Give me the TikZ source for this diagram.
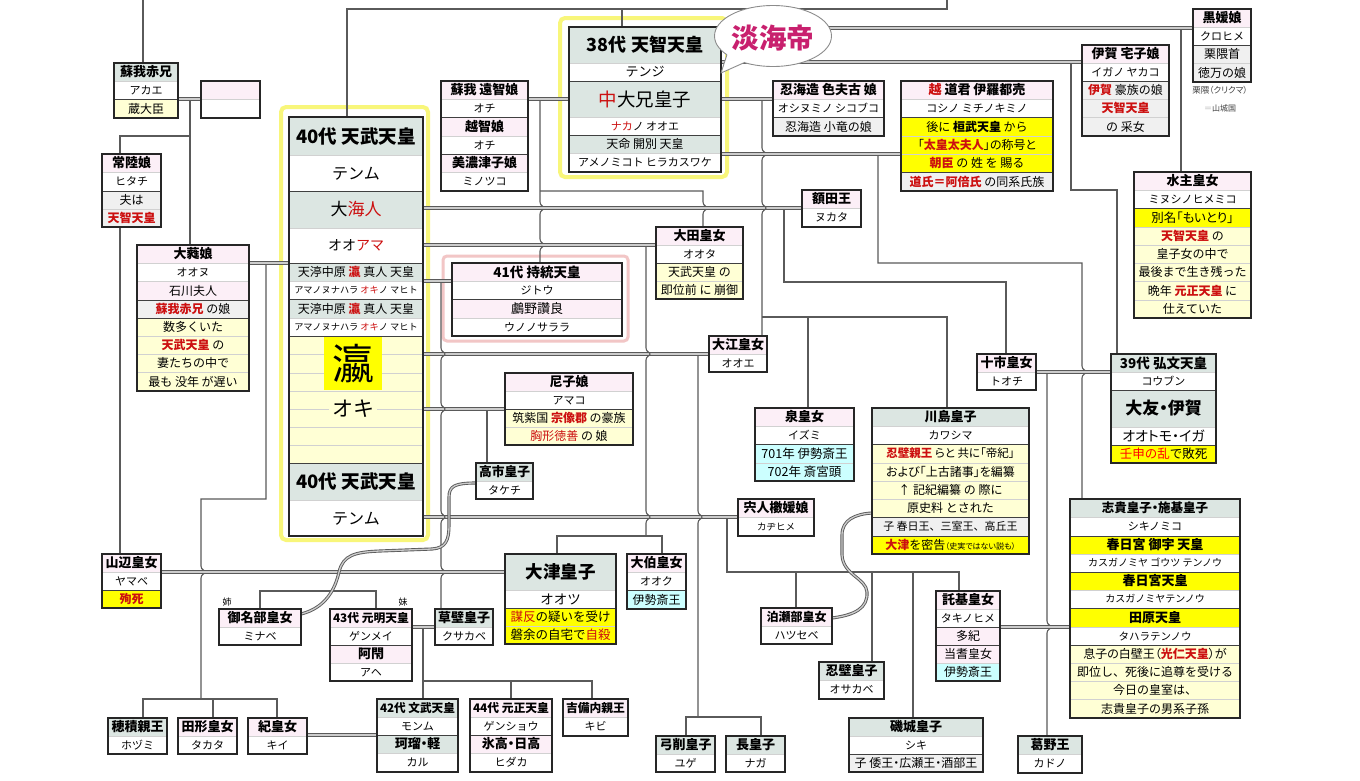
\documentclass[tikz,border=0pt]{standalone}
\usepackage{fontspec}
\usepackage{graphicx}
\setmainfont{Noto Sans CJK JP}
\usetikzlibrary{shapes.geometric}
\definecolor{hd}{HTML}{DCE6E2}
\definecolor{pk}{HTML}{FCEFF7}
\definecolor{wt}{HTML}{FFFFFF}
\definecolor{ly}{HTML}{FFFFD5}
\definecolor{yb}{HTML}{FFFF00}
\definecolor{gy}{HTML}{F0F0F0}
\definecolor{cy}{HTML}{CCFFFF}
\definecolor{tred}{HTML}{CC1010}
\definecolor{lc}{HTML}{5A5A5A}
\definecolor{mag}{HTML}{C8206E}
\definecolor{yhlc}{HTML}{F8F67A}
\definecolor{phlc}{HTML}{F2C6C6}
\pgfdeclarelayer{back}
\pgfdeclarelayer{lines}
\pgfsetlayers{back,lines,main}
\newif\ifdk
\newsavebox\rwbox
\newcommand\fs[1]{\fontsize{#1}{#1}\selectfont}
\newcommand\pa{\addfontfeature{RawFeature=+palt}}
\newcommand\rd[1]{{\color{tred}#1}}
\newcommand\rdb[1]{{\color{tred}\bfseries #1}}
\newcommand\cjs{\rule[-0.12em]{0pt}{1em}}
\def\tmpwt{wt}
\newcommand\fitbox[1]{%
 \sbox\rwbox{#1}%
 \pgfmathsetmacro\rwmax{\bxw-6}%
 \ifdim\wd\rwbox>\rwmax pt\relax
   \edef\rwwd{\the\wd\rwbox}%
   \pgfmathsetmacro\rwr{\rwmax/\rwwd}%
   \scalebox{\rwr}{\usebox\rwbox}%
 \else\usebox\rwbox\fi}
\newcommand\BX[4]{\gdef\bxn{#1}\gdef\bxx{#2}\gdef\bxt{#3}\gdef\bxy{#3}\gdef\bxw{#4}\global\dkfalse}
\newcommand\RW[4][]{%
 \fill[#3] (\bxx,\bxy) rectangle ({\bxx+\bxw},#2);%
 \ifdk\draw[dkl] (\bxx,\bxy) -- ++(\bxw,0);\else\draw[sepl] (\bxx,\bxy) -- ++(\bxw,0);\fi
 \global\dkfalse
 \def\tmpa{#3}\ifx\tmpa\tmpwt\def\rwf{\fs{11}}\else\def\rwf{\fs{12}}\fi
 \node[rowtxt,font=\rwf,#1] at ({\bxx+\bxw/2},{(\bxy+#2)/2}) {\fitbox{\cjs #4}};%
 \xdef\bxy{#2}}
\newcommand\DK{\global\dktrue}
\newcommand\EB{\pgfmathsetmacro\bxh{\bxy-\bxt}\node[bord,minimum width=\bxw pt,minimum height=\bxh pt,anchor=north west] (\bxn) at (\bxx,\bxt) {};}
\def\hp#1#2{-- (#1,{#2-6}) .. controls (#1,{#2-2}) and ({#1+4},{#2-2}) .. ({#1+4},#2) .. controls ({#1+4},{#2+2}) and (#1,{#2+2}) .. (#1,{#2+6})}
\begin{document}
\begin{tikzpicture}[x=1pt,y=-1pt,
  rowtxt/.style={inner sep=0},
  hb/.style={font=\fs{13}\bfseries},
  sepl/.style={draw=black!18,line width=0.6pt},
  dkl/.style={draw=black!75,line width=1pt},
  bord/.style={draw=black!85,line width=1.5pt,inner sep=0,outer sep=0},
  ln/.style={draw=lc,line width=1.1pt},
  dbl/.style={draw=lc,line width=0.9pt,double=black!20,double distance=1.3pt},
  yhl/.style={draw=yhlc,line width=4pt,rounded corners=5pt},
  phl/.style={draw=phlc,line width=3pt,rounded corners=4pt}]
\useasboundingbox (0,0) rectangle (1360,780);
\begin{pgfonlayer}{back}
\fill[white] (0,0) rectangle (1360,780);
\draw[yhl] (281,107) rectangle (428,540);
\draw[yhl] (560,18) rectangle (727,177);
\draw[phl] (443,256) rectangle (628,341);
\end{pgfonlayer}

% ---------- boxes ----------
\BX{soga}{114}{63}{64}
\RW[hb]{81}{hd}{蘇我赤兄}
\RW{99}{wt}{アカエ}
\DK\RW{118}{ly}{蔵大臣}
\EB

\BX{emp}{201}{81}{59}
\RW{99}{pk}{}
\RW{118}{wt}{}
\EB

\BX{hitachi}{102}{154}{59}
\RW[hb]{172}{pk}{常陸娘}
\RW{191}{wt}{ヒタチ}
\DK\RW{209}{gy}{夫は}
\RW{227}{gy}{\rdb{天智天皇}}
\EB

\BX{onu}{137}{245}{112}
\RW[hb]{263}{pk}{大蕤娘}
\RW{281}{wt}{オオヌ}
\RW{300}{pk}{石川夫人}
\DK\RW{318}{gy}{\rdb{蘇我赤兄} の娘}
\DK\RW{336}{ly}{数多くいた}
\RW{354}{ly}{\rdb{天武天皇} の}
\RW{372}{ly}{妻たちの中で}
\RW{391}{ly}{最も 没年 が遅い}
\EB

\BX{tenmu}{289}{117}{134}
\RW[font=\fs{18.5}\bfseries]{155}{hd}{40代 天武天皇}
\RW[font=\fs{16}]{191}{wt}{テンム}
\DK\RW[font=\fs{17}]{228}{hd}{大\rd{海人}}
\RW[font=\fs{14}]{263}{wt}{オオ\rd{アマ}}
\DK\RW[font=\fs{12}]{281}{hd}{天渟中原 \rdb{瀛} 真人 天皇}
\RW[font=\fs{9.2}]{299}{wt}{アマノヌナハラ \rd{オキ}ノ マヒト}
\DK\RW[font=\fs{12}]{318}{hd}{天渟中原 \rdb{瀛} 真人 天皇}
\RW[font=\fs{9.2}]{336}{wt}{アマノヌナハラ \rd{オキ}ノ マヒト}
\DK\RW{354}{ly}{}
\RW{373}{ly}{}
\RW{391}{ly}{}
\RW{409}{ly}{}
\RW{427}{ly}{}
\RW{445}{ly}{}
\RW{463}{ly}{}
\fill[yb] (324,336.5) rectangle (382,390);
\node[font=\fs{42},inner sep=0] (oki1) at (353,364) {瀛};
\node[font=\fs{21},inner sep=3pt,fill=ly] (oki2) at (353,409) {オキ};
\DK\RW[font=\fs{18.5}\bfseries]{500}{hd}{40代 天武天皇}
\RW[font=\fs{16}]{536}{wt}{テンム}
\EB

\BX{tenji}{569}{27}{152}
\RW[font=\fs{18}\bfseries]{63}{hd}{38代 天智天皇}
\RW[font=\fs{13}]{81}{wt}{テンジ}
\DK\RW[font=\fs{18.5}]{117}{hd}{\rd{中}大兄皇子}
\RW[font=\fs{11}]{135}{wt}{\rd{ナカ}ノ オオエ}
\DK\RW[font=\fs{12}]{153}{hd}{天命 開別 天皇}
\RW[font=\fs{11}]{172}{wt}{アメノミコト ヒラカスワケ}
\EB

\BX{ochi}{441}{81}{87}
\RW[hb]{99}{pk}{蘇我 遠智娘}
\RW{117}{wt}{オチ}
\DK\RW[hb]{136}{pk}{越智娘}
\RW{154}{wt}{オチ}
\DK\RW[hb]{172}{pk}{美濃津子娘}
\RW{191}{wt}{ミノツコ}
\EB

\BX{oshinumi}{773}{81}{111}
\RW[hb]{99}{pk}{忍海造 色夫古 娘}
\RW{117}{wt}{オシヌミノ シコブコ}
\DK\RW{136}{gy}{忍海造 小竜の娘}
\EB

\BX{koshi}{901}{81}{152}
\RW[hb]{99}{pk}{\rd{越} 道君 伊羅都売}
\RW{117}{wt}{コシノ ミチノキミノ}
\DK\RW{136}{yb}{後に {\bfseries 桓武天皇} から}
\RW{154}{yb}{\pa「\rdb{太皇太夫人}」の称号と}
\RW{172}{yb}{\rdb{朝臣} の 姓 を 賜る}
\DK\RW{191}{gy}{\rdb{道氏＝阿倍氏} の同系氏族}
\EB

\BX{iga}{1082}{45}{87}
\RW[hb]{63}{pk}{伊賀 宅子娘}
\RW{81}{wt}{イガノ ヤカコ}
\DK\RW{99}{gy}{\rdb{伊賀} 豪族の娘}
\RW{117}{gy}{\rdb{天智天皇}}
\RW{136}{gy}{の 采女}
\EB

\BX{kuro}{1193}{9}{58}
\RW[hb]{27}{pk}{黒媛娘}
\RW{45}{wt}{クロヒメ}
\DK\RW{63}{gy}{栗隈首}
\RW{82}{gy}{徳万の娘}
\EB
\node[font=\fs{8.5},text=black!75,inner sep=0] (kn1) at (1220,90) {\pa 栗隈（クリクマ）};
\node[font=\fs{8},text=black!75,inner sep=0] (kn2) at (1220,108) {{\color{black!30}＝}山城国};

\BX{mondo}{1134}{172}{117}
\RW[hb]{190}{pk}{水主皇女}
\RW{208}{wt}{ミヌシノヒメミコ}
\DK\RW[font=\fs{12.5}]{227}{yb}{\pa 別名「もいとり」}
\RW{245}{ly}{\rdb{天智天皇} の}
\RW{263}{ly}{皇子女の中で}
\RW{281}{ly}{最後まで生き残った}
\RW{300}{ly}{晩年 \rdb{元正天皇} に}
\RW{318}{ly}{仕えていた}
\EB

\BX{nukata}{802}{190}{59}
\RW[hb]{208}{pk}{額田王}
\RW{227}{wt}{ヌカタ}
\EB

\BX{ota}{656}{227}{87}
\RW[hb]{245}{pk}{大田皇女}
\RW{263}{wt}{オオタ}
\DK\RW{281}{ly}{天武天皇 の}
\RW{299}{ly}{即位前 に 崩御}
\EB

\BX{jito}{452}{263}{170}
\RW[font=\fs{13.5}\bfseries]{281}{pk}{41代 持統天皇}
\RW{299}{wt}{ジトウ}
\DK\RW[font=\fs{13}]{318}{pk}{鸕野讚良}
\RW{336}{wt}{ウノノサララ}
\EB

\BX{ooe}{709}{336}{58}
\RW[hb]{354}{pk}{大江皇女}
\RW{372}{wt}{オオエ}
\EB

\BX{tochi}{977}{354}{59}
\RW[hb]{372}{pk}{十市皇女}
\RW{390}{wt}{トオチ}
\EB

\BX{kobun}{1111}{354}{105}
\RW[font=\fs{13.5}\bfseries]{372}{hd}{39代 弘文天皇}
\RW{390}{wt}{コウブン}
\DK\RW[font=\fs{17}\bfseries]{427}{hd}{\pa 大友・伊賀}
\RW[font=\fs{14}]{445}{wt}{\pa オオトモ・イガ}
\DK\RW[font=\fs{12.5}]{463}{yb}{{\color{red}壬申の乱}で敗死}
\EB

\BX{amako}{505}{373}{128}
\RW[hb]{391}{pk}{尼子娘}
\RW{409}{wt}{アマコ}
\DK\RW{427}{ly}{筑紫国 \rdb{宗像郡} の豪族}
\RW{445}{ly}{\rd{胸形徳善} の 娘}
\EB

\BX{izumi}{755}{408}{99}
\RW[hb]{426}{pk}{泉皇女}
\RW{444}{wt}{イズミ}
\DK\RW[font=\fs{12.5}]{463}{cy}{701年 伊勢斎王}
\RW[font=\fs{12.5}]{481}{cy}{702年 斎宮頭}
\EB

\BX{kawa}{872}{408}{157}
\RW[font=\fs{13}\bfseries]{426}{hd}{川島皇子}
\RW{444}{wt}{カワシマ}
\DK\RW[font=\fs{11.5}]{463}{ly}{\pa\rdb{忍壁親王} らと 共に「帝紀」}
\RW[font=\fs{12}]{481}{ly}{\pa および「上古諸事」を編纂}
\RW{499}{ly}{↑ 記紀編纂 の 際に}
\RW{517}{ly}{原史料 とされた}
\DK\RW[font=\fs{11}]{536}{gy}{子 春日王、三室王、高丘王}
\DK\RW{554}{yb}{\rdb{大津}を密告{\fs{8}\pa（史実ではない説も）}}
\EB

\BX{takechi}{476}{463}{57}
\RW[hb]{481}{hd}{高市皇子}
\RW{499}{wt}{タケチ}
\EB

\BX{shishi}{738}{499}{76}
\RW[hb]{517}{pk}{宍人櫢媛娘}
\RW[font=\fs{9.5}]{536}{wt}{カヂヒメ}
\EB

\BX{shiki}{1070}{499}{170}
\RW[font=\fs{12.5}\bfseries]{517}{hd}{\pa 志貴皇子・施基皇子}
\RW{536}{wt}{シキノミコ}
\DK\RW[hb]{554}{yb}{春日宮 御宇 天皇}
\RW[font=\fs{10}]{572}{wt}{カスガノミヤ ゴウツ テンノウ}
\DK\RW[hb]{590}{yb}{春日宮天皇}
\RW[font=\fs{10}]{608}{wt}{カスガノミヤテンノウ}
\DK\RW[hb]{627}{yb}{田原天皇}
\RW[font=\fs{10.5}]{645}{wt}{タハラテンノウ}
\DK\RW{663}{ly}{\pa 息子の白壁王（\rdb{光仁天皇}）が}
\RW{681}{ly}{即位し、死後に追尊を受ける}
\RW{699}{ly}{今日の皇室は、}
\RW{718}{ly}{志貴皇子の男系子孫}
\EB

\BX{yamabe}{102}{554}{59}
\RW[hb]{572}{pk}{山辺皇女}
\RW{590}{wt}{ヤマベ}
\DK\RW{608}{yb}{\rdb{殉死}}
\EB

\BX{otsu}{505}{554}{111}
\RW[font=\fs{17.5}\bfseries]{590}{hd}{大津皇子}
\RW[font=\fs{13.5}]{608}{wt}{オオツ}
\DK\RW[font=\fs{12.5}]{626}{yb}{\rd{謀反}の疑いを受け}
\RW[font=\fs{12.5}]{644}{yb}{磐余の自宅で\rd{自殺}}
\EB

\BX{oku}{627}{554}{59}
\RW[hb]{572}{pk}{大伯皇女}
\RW{590}{wt}{オオク}
\DK\RW{609}{cy}{伊勢斎王}
\EB

\BX{tsuki}{936}{591}{64}
\RW[hb]{609}{pk}{託基皇女}
\RW{627}{wt}{タキノヒメ}
\DK\RW{645}{pk}{多紀}
\DK\RW{663}{pk}{当耆皇女}
\RW{681}{cy}{伊勢斎王}
\EB

\BX{hatsu}{761}{608}{71}
\RW[font=\fs{12}\bfseries]{626}{pk}{泊瀬部皇女}
\RW{644}{wt}{ハツセベ}
\EB

\BX{minabe}{219}{609}{82}
\RW[hb]{627}{pk}{御名部皇女}
\RW{645}{wt}{ミナベ}
\EB
\node[font=\fs{9},inner sep=0] (ane) at (227,602) {姉};
\node[font=\fs{9},inner sep=0] (imo) at (403,602) {妹};

\BX{genmei}{330}{609}{82}
\RW[hb]{627}{pk}{43代 元明天皇}
\RW{645}{wt}{ゲンメイ}
\DK\RW[hb]{663}{pk}{阿閇}
\RW{681}{wt}{アヘ}
\EB

\BX{kusa}{435}{609}{58}
\RW[hb]{627}{hd}{草壁皇子}
\RW{645}{wt}{クサカベ}
\EB

\BX{osakabe}{819}{662}{65}
\RW[hb]{680}{hd}{忍壁皇子}
\RW{699}{wt}{オサカベ}
\EB

\BX{monmu}{377}{699}{81}
\RW[hb]{717}{hd}{42代 文武天皇}
\RW{735}{wt}{モンム}
\DK\RW[hb]{753}{hd}{\pa 珂瑠・軽}
\RW{772}{wt}{カル}
\EB

\BX{gensho}{470}{699}{82}
\RW[hb]{717}{pk}{44代 元正天皇}
\RW{735}{wt}{ゲンショウ}
\DK\RW[hb]{753}{pk}{\pa 氷高・日高}
\RW{772}{wt}{ヒダカ}
\EB

\BX{kibi}{563}{699}{65}
\RW[hb]{717}{pk}{吉備内親王}
\RW{736}{wt}{キビ}
\EB

\BX{hozumi}{108}{718}{59}
\RW[hb]{736}{hd}{穂積親王}
\RW{754}{wt}{ホヅミ}
\EB

\BX{takata}{178}{718}{59}
\RW[hb]{736}{pk}{田形皇女}
\RW{754}{wt}{タカタ}
\EB

\BX{ki}{248}{718}{59}
\RW[hb]{736}{pk}{紀皇女}
\RW{754}{wt}{キイ}
\EB

\BX{yuge}{656}{736}{59}
\RW[hb]{754}{hd}{弓削皇子}
\RW{772}{wt}{ユゲ}
\EB

\BX{naga}{726}{736}{59}
\RW[hb]{754}{hd}{長皇子}
\RW{772}{wt}{ナガ}
\EB

\BX{shikiP}{849}{718}{134}
\RW[hb]{736}{hd}{磯城皇子}
\RW{754}{wt}{シキ}
\DK\RW{772}{gy}{\pa 子 倭王・広瀬王・酒部王}
\EB

\BX{kadono}{1018}{736}{64}
\RW[hb]{754}{hd}{葛野王}
\RW{773}{wt}{カドノ}
\EB

% ---------- connectors ----------
\begin{pgfonlayer}{lines}
\coordinate (tl) at (143,0);
\coordinate (tr) at (947,0);
\draw[ln] (tl) -- (soga.north -| tl);
\draw[dbl] (soga.east |- 0,99) -- (emp.west |- 0,99);
\draw[ln] (190,100) -- (onu.north -| 190,0);
\draw[ln] (190,136) -- (120,136) -- (hitachi.north -| 120,0);
\draw[ln] (hitachi.south -| 120,0) -- (yamabe.north -| 120,0);
\draw[dbl] (onu.east |- 0,263) -- (tenmu.west |- 0,263);
\draw[ln] (266,264) -- (266,499) -- (201,499) \hp{201}{572} -- (201,699);
\draw[ln] (hozumi.north -| 143,0) -- (143,699) -- (277,699) -- (ki.north -| 277,0);
\draw[ln] (213,699) -- (takata.north -| 213,0);

\draw[ln] (tenmu.north -| 347,0) -- (347,9) -- (947,9) -- (tr);
\draw[ln] (622,9) -- (tenji.north -| 622,0);

\draw[dbl] (ochi.east |- 0,99) -- (tenji.west |- 0,99);
\draw[ln] (540,100) \hp{540}{208} \hp{540}{245} -- (jito.north -| 540,0);
\draw[ln] (540,191) -- (703,191) \hp{703}{208} -- (ota.north -| 703,0);

\draw[dbl] (tenmu.east |- 0,208) -- (nukata.west |- 0,208);
\draw[dbl] (tenmu.east |- 0,245) -- (ota.west |- 0,245);
\draw[dbl] (tenmu.east |- 0,281) -- (jito.west |- 0,281);
\draw[dbl] (tenmu.east |- 0,354) -- (ooe.west |- 0,354);
\draw[dbl] (tenmu.east |- 0,409) -- (amako.west |- 0,409);
\draw[dbl] (tenmu.east |- 0,517) -- (shishi.west |- 0,517);

\draw[ln] (441,283) \hp{441}{354} \hp{441}{409} \hp{441}{517} \hp{441}{572} -- (kusa.north -| 441,0);
\draw[ln] (487,410) -- (takechi.north -| 487,0);
\draw[ln] (646,246) \hp{646}{354} \hp{646}{517} -- (646,536);
\draw[ln] (otsu.north -| 557,0) -- (557,536) -- (662,536) -- (oku.north -| 662,0);
\draw[ln] (698,355) \hp{698}{517} -- (698,717);
\draw[ln] (yuge.north -| 686,0) -- (686,717) -- (761,717) -- (naga.north -| 761,0);
\draw[ln] (727,518) -- (727,572) -- (959,572) -- (tsuki.north -| 959,0);
\draw[ln] (796,572) -- (hatsu.north -| 796,0);
\draw[ln] (872,572) -- (osakabe.north -| 872,0);
\draw[ln] (913,572) -- (shikiP.north -| 913,0);

\draw[dbl] (tenji.east |- 0,99) -- (oshinumi.west |- 0,99);
\draw[ln] (762,100) \hp{762}{154} \hp{762}{208} -- (762,317) -- (ooe.north -| 762,0);
\draw[ln] (762,317) -- (947,317) -- (kawa.north -| 947,0);
\draw[ln] (808,317) -- (izumi.north -| 808,0);
\draw[dbl] (tenji.east |- 0,154) -- (koshi.west |- 0,154);
\draw[ln] (878,155) -- (878,263) -- (1082,263) \hp{1082}{372} -- (shiki.north -| 1082,0);
\draw[dbl] (tenji.east |- 0,62) -- (iga.west |- 0,62);
\draw[ln] (1071,63) -- (1071,190) -- (1117,190) -- (kobun.north -| 1117,0);
\draw[dbl] (tenji.east |- 0,28) -- (kuro.west |- 0,28);
\draw[ln] (1181,29) -- (mondo.north -| 1181,0);
\draw[ln] (784,209) -- (784,282) -- (1006,282) -- (tochi.north -| 1006,0);
\draw[dbl] (tochi.east |- 0,372) -- (kobun.west |- 0,372);
\draw[ln] (1047,373) \hp{1047}{627} -- (kadono.north -| 1047,0);
\draw[dbl] (tsuki.east |- 0,627) -- (shiki.west |- 0,627);
\draw[dbl] (yamabe.east |- 0,572) -- (otsu.west |- 0,572);
\draw[dbl] (genmei.east |- 0,627) -- (kusa.west |- 0,627);
\draw[ln] (423,628) -- (monmu.north -| 423,0);
\draw[ln] (423,681) -- (592,681) -- (kibi.north -| 592,0);
\draw[ln] (511,681) -- (gensho.north -| 511,0);
\draw[dbl] (ki.east |- 0,735) -- (monmu.west |- 0,735);
\draw[ln] (minabe.north -| 260,0) -- (260,591) -- (376,591) -- (genmei.north -| 376,0);
\draw[dbl] (minabe.east |- 0,614) .. controls (325,608) and (335,590) .. (339,572) .. controls (343,555) and (355,552) .. (380,551) -- (432,549) .. controls (446,548) and (449,540) .. (449,525) -- (449,497) .. controls (449,486) and (455,483) .. (takechi.west |- 0,483);
\draw[dbl] (hatsu.east |- 0,618) .. controls (855,615) and (868,608) .. (867,592) .. controls (866,578) and (843,575) .. (842,555) -- (842,535) .. controls (842,520) and (855,514) .. (kawa.west |- 0,513);
\end{pgfonlayer}

% ---------- bubble ----------
\node[ellipse,draw=black!45,fill=white,line width=0.9pt,minimum width=117pt,minimum height=61pt,inner sep=0] (bub) at (773,36) {};
\fill[white] (727,54.5) -- (721,73) -- (745,62.3) -- (740,55) -- (728,50) -- cycle;
\draw[black!45,line width=0.9pt,line join=round] (727,54.5) -- (721,73) -- (745,62.3);
\node[font=\fs{27.5}\bfseries,text=mag,inner sep=0] (bubt) at (773,38) {淡海帝};
\end{tikzpicture}
\end{document}
